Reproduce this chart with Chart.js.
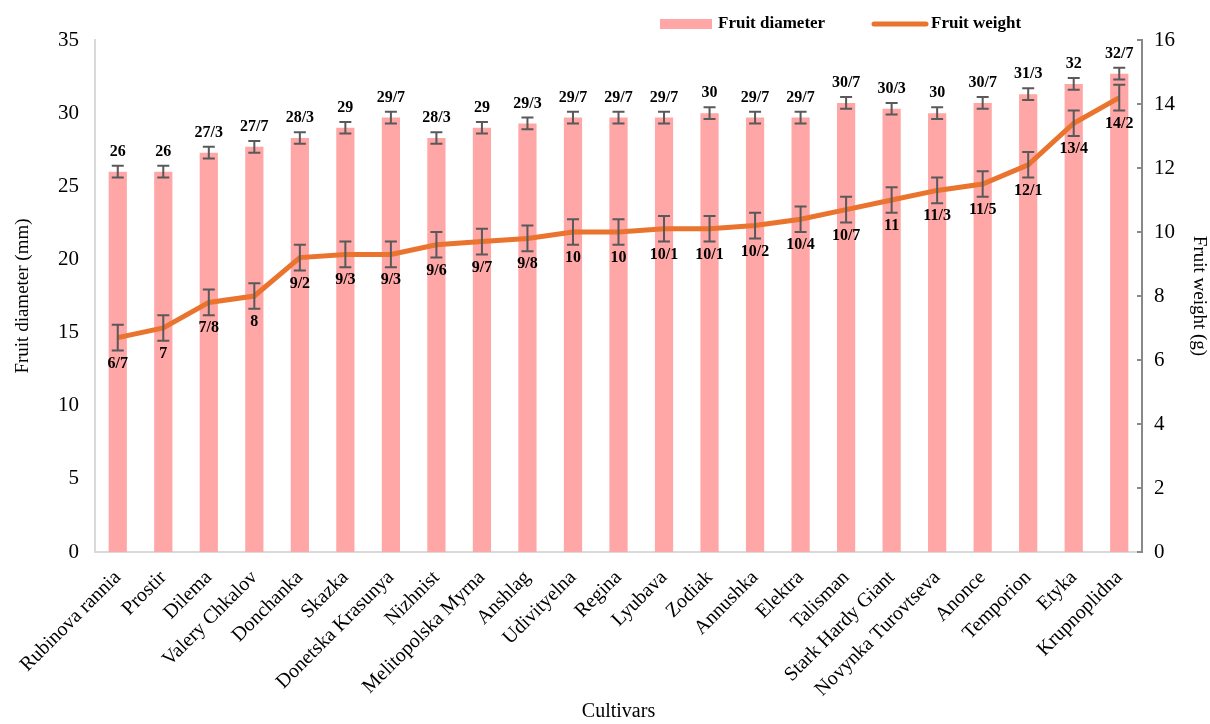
<!DOCTYPE html>
<html>
<head>
<meta charset="utf-8">
<script src="https://cdn.jsdelivr.net/npm/chart.js@4.4.0/dist/chart.umd.min.js"></script>
<style>
  html, body { margin: 0; padding: 0; background: #fff; }
  #wrap { width: 1210px; height: 724px; }
</style>
</head>
<body>
<div id="wrap"><canvas id="myChart" width="1210" height="724"></canvas></div>
<script>
// Data

const cultivars = [
    'Rubinova rannia', 'Prostir', 'Dilema', 'Valery Chkalov', 'Donchanka', 'Skazka',
    'Donetska Krasunya', 'Nizhnist', 'Melitopolska Myrna', 'Anshlag', 'Udivityelna',
    'Regina', 'Lyubava', 'Zodiak', 'Annushka', 'Elektra', 'Talisman', 'Stark Hardy Giant',
    'Novynka Turovtseva', 'Anonce', 'Temporion', 'Etyka', 'Krupnoplidna'
];

const diameter = [26, 26, 27.3, 27.7, 28.3, 29, 29.7, 28.3, 29, 29.3, 29.7, 29.7, 29.7, 30, 29.7, 29.7, 30.7, 30.3, 30, 30.7, 31.3, 32, 32.7];
const diameterErr = [0.4, 0.4, 0.4, 0.4, 0.4, 0.4, 0.4, 0.4, 0.4, 0.4, 0.4, 0.4, 0.4, 0.4, 0.4, 0.4, 0.4, 0.4, 0.4, 0.4, 0.4, 0.4, 0.4];

const weight = [6.7, 7, 7.8, 8, 9.2, 9.3, 9.3, 9.6, 9.7, 9.8, 10, 10, 10.1, 10.1, 10.2, 10.4, 10.7, 11, 11.3, 11.5, 12.1, 13.4, 14.2];
const weightErr = [0.4, 0.4, 0.4, 0.4, 0.4, 0.4, 0.4, 0.4, 0.4, 0.4, 0.4, 0.4, 0.4, 0.4, 0.4, 0.4, 0.4, 0.4, 0.4, 0.4, 0.4, 0.4, 0.4];

const leftTicks = [0, 5, 10, 15, 20, 25, 30, 35];
const rightTicks = [0, 2, 4, 6, 8, 10, 12, 14, 16];

const serif = '"Liberation Serif", "Times New Roman", serif';
const barColor = 'rgb(255, 166, 166)';
const lineColor = 'rgb(234, 115, 46)';
const errColor = 'rgb(89, 89, 89)';

// "27.3" -> "27/3"
const fmt = (v) => String(v).replace('.', '/');

// error bars + value labels
const errorBars = {
    id: 'errorBars',
    afterDatasetsDraw(chart) {
        const ctx = chart.ctx;
        const drawErr = (x, yHi, yLo) => {
            ctx.beginPath();
            ctx.moveTo(x, yHi); ctx.lineTo(x, yLo);
            ctx.moveTo(x - 6, yHi); ctx.lineTo(x + 6, yHi);
            ctx.moveTo(x - 6, yLo); ctx.lineTo(x + 6, yLo);
            ctx.stroke();
        };
        ctx.save();
        ctx.strokeStyle = errColor;
        ctx.lineWidth = 2;
        ctx.fillStyle = '#000';
        ctx.font = 'bold 16px ' + serif;
        ctx.textAlign = 'center';

        const y = chart.scales.y, y1 = chart.scales.y1;
        chart.getDatasetMeta(0).data.forEach((bar, i) => {
            const hi = y.getPixelForValue(diameter[i] + diameterErr[i]);
            const lo = y.getPixelForValue(diameter[i] - diameterErr[i]);
            drawErr(bar.x, hi, lo);
            ctx.textBaseline = 'bottom';
            ctx.fillText(fmt(diameter[i]), bar.x, hi - 6);
        });
        chart.getDatasetMeta(1).data.forEach((pt, i) => {
            const hi = y1.getPixelForValue(weight[i] + weightErr[i]);
            const lo = y1.getPixelForValue(weight[i] - weightErr[i]);
            drawErr(pt.x, hi, lo);
            ctx.textBaseline = 'top';
            ctx.fillText(fmt(weight[i]), pt.x, lo + 5);
        });

        // inner tick marks on the right axis
        ctx.strokeStyle = 'rgb(137, 137, 137)';
        ctx.lineWidth = 2;
        rightTicks.forEach(t => {
            const py = y1.getPixelForValue(t);
            ctx.beginPath();
            ctx.moveTo(y1.left, py); ctx.lineTo(y1.left - 5, py);
            ctx.stroke();
        });
        ctx.restore();
    }
};

// legend
const legendBox = {
    id: 'legendBox',
    afterDraw(chart) {
        const ctx = chart.ctx;
        ctx.save();
        ctx.font = 'bold 17px ' + serif;
        ctx.fillStyle = '#000';
        ctx.textBaseline = 'middle';
        ctx.textAlign = 'left';

        ctx.fillStyle = barColor;
        ctx.fillRect(660, 19, 52, 10);
        ctx.fillStyle = '#000';
        ctx.fillText('Fruit diameter', 718, 24);

        ctx.strokeStyle = lineColor;
        ctx.lineWidth = 5;
        ctx.lineCap = 'round';
        ctx.beginPath();
        ctx.moveTo(874, 24); ctx.lineTo(926, 24);
        ctx.stroke();
        ctx.fillText('Fruit weight', 931, 24);
        ctx.restore();
    }
};

const data = {
    labels: cultivars,
    datasets: [
        {
            type: 'bar',
            label: 'Fruit diameter',
            data: diameter,
            backgroundColor: barColor,
            barPercentage: 0.4,
            categoryPercentage: 1,
            yAxisID: 'y',
            order: 2
        },
        {
            type: 'line',
            label: 'Fruit weight',
            data: weight,
            borderColor: lineColor,
            borderWidth: 5,
            pointRadius: 0,
            tension: 0,
            yAxisID: 'y1',
            order: 1
        }
    ]
};

const config = {
    data: data,
    options: {
        responsive: false,
        animation: false,
        layout: { padding: { top: 40, left: 0, right: 0, bottom: 0 } },
        plugins: {
            legend: { display: false },
            tooltip: { enabled: false }
        },
        scales: {
            x: {
                grid: { display: false, drawTicks: false },
                border: { color: 'rgb(217, 217, 217)', width: 2 },
                ticks: {
                    color: '#000',
                    font: { family: serif, size: 20 },
                    maxRotation: 45,
                    minRotation: 45,
                    autoSkip: false,
                    padding: 14
                },
                title: {
                    display: true,
                    text: 'Cultivars',
                    color: '#000',
                    font: { family: serif, size: 20 },
                    padding: { top: 0, bottom: 0 }
                },
                afterFit: (s) => { s.height = 172; }
            },
            y: {
                position: 'left',
                min: 0,
                max: 35,
                afterBuildTicks: (s) => { s.ticks = leftTicks.map(v => ({ value: v })); },
                grid: { display: false, drawTicks: false },
                border: { color: 'rgb(217, 217, 217)', width: 2 },
                ticks: {
                    color: '#000',
                    font: { family: serif, size: 21 },
                    padding: 16
                },
                title: {
                    display: true,
                    text: 'Fruit diameter (mm)',
                    color: '#000',
                    font: { family: serif, size: 19 },
                    padding: { top: 12, bottom: 0 }
                },
                afterFit: (s) => { s.width = 95; }
            },
            y1: {
                position: 'right',
                min: 0,
                max: 16,
                afterBuildTicks: (s) => { s.ticks = rightTicks.map(v => ({ value: v })); },
                grid: { display: false, drawTicks: false },
                border: { color: 'rgb(137, 137, 137)', width: 2 },
                ticks: {
                    color: '#000',
                    font: { family: serif, size: 21 },
                    padding: 12
                },
                title: {
                    display: true,
                    text: 'Fruit weight (g)',
                    color: '#000',
                    font: { family: serif, size: 19 },
                    padding: { top: 0, bottom: 6 }
                },
                afterFit: (s) => { s.width = 68; }
            }
        }
    },
    plugins: [errorBars, legendBox]
};

const myChart = new Chart(document.getElementById('myChart'), config);
</script>
</body>
</html>
